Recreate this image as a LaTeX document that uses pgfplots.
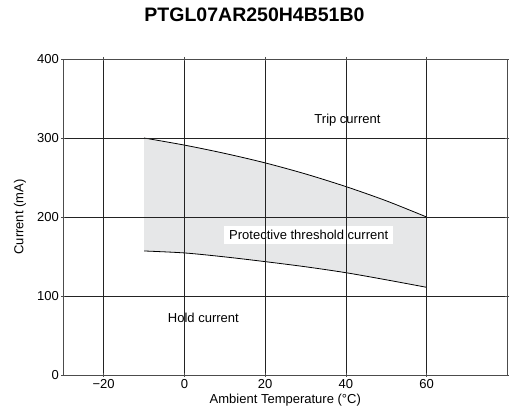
\documentclass[border=0pt]{standalone}
\usepackage{pgfplots}
\pgfplotsset{compat=1.18}
\usepgfplotslibrary{fillbetween}
\usepackage{fontspec}
\setmainfont{Liberation Sans}
\definecolor{band}{RGB}{230,231,232}
\definecolor{gridc}{RGB}{35,35,35}

\begin{document}
\begin{tikzpicture}[font=\fontsize{13}{15}\selectfont]
\begin{axis}[
    scale only axis,
    width=444pt, height=316pt,
    xmin=-30, xmax=80, ymin=0, ymax=400,
    xtick={-20,0,20,40,60},
    xticklabels={−20,0,20,40,60},
    ytick={0,100,200,300,400},
    grid=major,
    major grid style={gridc, line width=0.7pt},
    axis line style={black!70, line width=0.8pt},
    tick style={black!70, line width=0.6pt},
    major tick length=4pt, tick align=center,
    axis on top,
    /pgf/number format/assume math mode=true,
    xticklabel style={yshift=1pt},
    yticklabel style={xshift=1pt},
    title={PTGL07AR250H4B51B0},
    title style={at={(0.4306,1.1367)}, anchor=center, yshift=-5pt, font=\fontsize{19.5}{23}\selectfont\bfseries},
    xlabel={Ambient Temperature (°C)},
    ylabel={Current (mA)},
    every axis x label/.style={at={(0.5,-0.079)}, anchor=center},
    every axis y label/.style={at={(-0.0975,0.5)}, anchor=center, rotate=90},
  ]
  \addplot[name path=upper, black, line width=0.8pt, smooth]
    coordinates {(-10,300) (0,291) (10,280.5) (20,268.5) (30,254.5) (40,238.5) (50,220.5) (60,200)};
  \addplot[name path=lower, black, line width=0.8pt, smooth]
    coordinates {(-10,157) (0,154.5) (10,149.5) (20,143.5) (30,137) (40,129.5) (50,120.5) (60,111)};
  \addplot[band, draw=none] fill between[of=upper and lower];
  \coordinate (tripc) at (axis cs:40.4,323);
  \coordinate (protc) at (axis cs:30.8,177.2);
  \coordinate (holdc) at (axis cs:4.7,72.5);
\end{axis}
\node[fill=white, inner sep=1.5pt] at (tripc) {Trip current};
\node[fill=white, inner xsep=5pt, inner ysep=4.5pt] at (protc) {Protective threshold current};
\node[fill=white, inner sep=1.5pt] at (holdc) {Hold current};
\pgfresetboundingbox
\path ([xshift=-63.3pt,yshift=-41pt]current axis.south west) rectangle ([xshift=1.7pt,yshift=59pt]current axis.north east);
\end{tikzpicture}
\end{document}
